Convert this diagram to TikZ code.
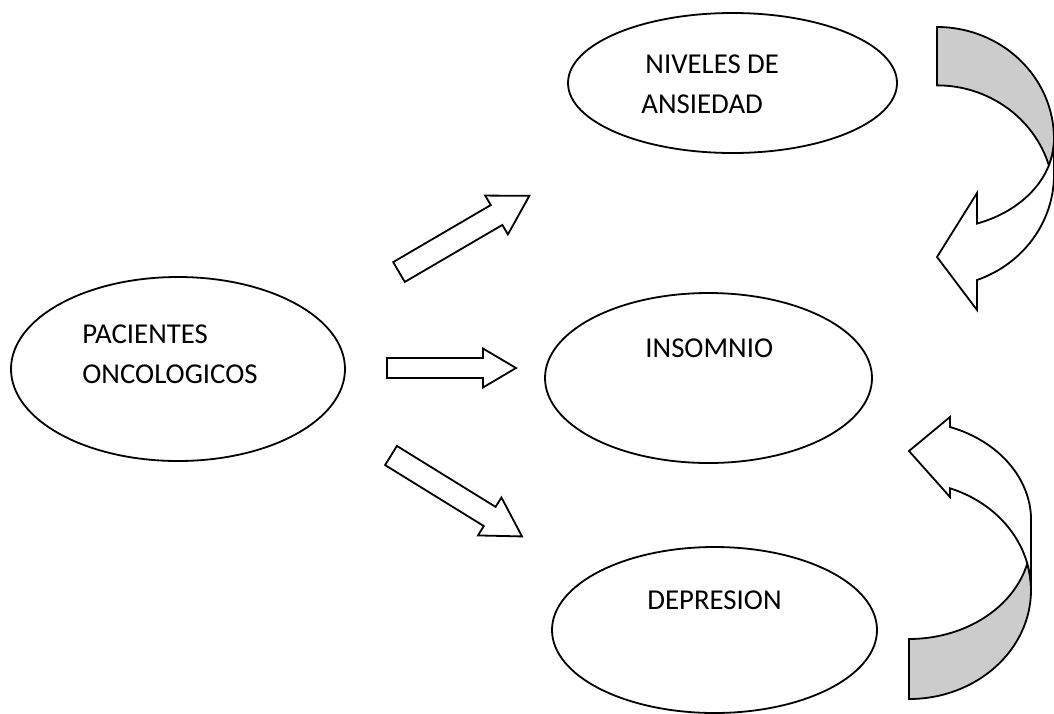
\documentclass[tikz,border=0pt]{standalone}
\usepackage{fontspec}
\setmainfont{Carlito}
\usetikzlibrary{shapes.geometric}
\tikzset{
  oval/.style={draw,ellipse,line width=0.9pt,inner sep=0pt},
  lbl/.style={anchor=base west,inner sep=0pt,font=\fontsize{14.4}{18}\selectfont},
  fatarrow/.style={draw,fill=white,line width=0.9pt,line join=miter},
  bendarrow/.style={draw,line width=0.9pt,line join=miter}
}
% tail, angle, length, half shaft, half head, head length
\newcommand{\blockarrow}[6]{%
  \begin{scope}[shift={#1},rotate=#2]
    \draw[fatarrow] (0,-#4) -- (#3-#6,-#4) -- (#3-#6,-#5) -- (#3,0)
      -- (#3-#6,#5) -- (#3-#6,#4) -- (0,#4) -- cycle;
  \end{scope}}
\begin{document}
\begin{tikzpicture}[x=0.5pt,y=-0.5pt]
  \useasboundingbox (0,0) rectangle (1054,713);
  \coordinate (p) at (178,369);
  \coordinate (n) at (732.5,83);
  \coordinate (i) at (708.5,378);
  \coordinate (d) at (714.5,630);
  \coordinate (t1) at (399,272);
  \coordinate (t2) at (387,368);
  \coordinate (t3) at (391,455.5);

  \node[oval,minimum width=167pt,minimum height=92pt] (pacientes) at (p) {};
  \node[oval,minimum width=164.5pt,minimum height=70pt] (niveles) at (n) {};
  \node[oval,minimum width=163.5pt,minimum height=85pt] (insomnio) at (i) {};
  \node[oval,minimum width=162.5pt,minimum height=83pt] (depresion) at (d) {};

  \node[lbl] (pac1) at (82,343) {PACIENTES};
  \node[lbl] (pac2) at (82,383) {ONCOLOGICOS};
  \node[lbl] (niv1) at (645,73) {NIVELES DE};
  \node[lbl] (niv2) at (641,113) {ANSIEDAD};
  \node[lbl] (ins1) at (645,357) {INSOMNIO};
  \node[lbl] (dep1) at (647,609) {DEPRESION};

  \blockarrow{(t1)}{30.3}{151}{11.5}{22.5}{38}
  \blockarrow{(t2)}{0}{129}{10}{19.5}{33}
  \blockarrow{(t3)}{-31.7}{154}{11.25}{22.3}{38}

  \draw[bendarrow,fill=gray!40] (937,27)
    arc[start angle=270,end angle=360,x radius=117,y radius=112]
    arc[start angle=0,end angle=17,x radius=117,y radius=90]
    arc[start angle=343,end angle=270,x radius=117,y radius=113] -- cycle;
  \draw[bendarrow,fill=white] (1054,139)
    arc[start angle=0,end angle=70,x radius=117,y radius=90]
    -- (977,193) -- (937,257) -- (977,310) -- (977,280)
    arc[start angle=70,end angle=0,x radius=117,y radius=112] -- cycle;

  \draw[bendarrow,fill=gray!40] (909,699)
    arc[start angle=90,end angle=0,x radius=122,y radius=109]
    arc[start angle=0,end angle=-14.2,x radius=122,y radius=108]
    arc[start angle=14.2,end angle=90,x radius=122,y radius=100] -- cycle;
  \draw[bendarrow,fill=white] (1031,590)
    arc[start angle=0,end angle=-70.4,x radius=122,y radius=108]
    -- (950,497) -- (909,451) -- (950,417) -- (950,427)
    arc[start angle=-70.4,end angle=0,x radius=122,y radius=99] -- cycle;
\end{tikzpicture}
\end{document}
